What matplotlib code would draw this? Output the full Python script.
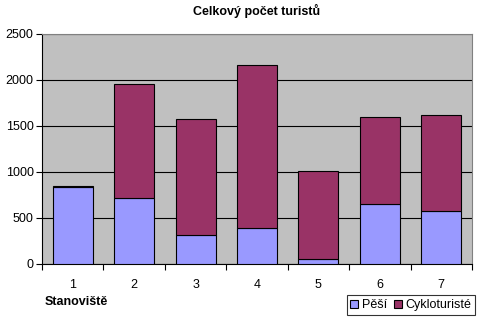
import numpy as np
import matplotlib.pyplot as plt

plt.rcParams['font.family'] = ['Liberation Sans', 'DejaVu Sans']

stanoviste = ['1', '2', '3', '4', '5', '6', '7']
pesi = [840, 720, 310, 395, 50, 650, 580]
cykloturiste = [12, 1240, 1265, 1765, 965, 950, 1040]

fig = plt.figure(figsize=(4.82, 3.22), dpi=100)
ax = fig.add_axes([42 / 482, 58 / 322, 430 / 482, 230 / 322])
ax.set_facecolor('#C0C0C0')

x = np.arange(len(stanoviste))
w = 0.65
ax.bar(x, pesi, w, color='#9999FF', edgecolor='black', linewidth=0.8,
       label='Pěší', zorder=3)
ax.bar(x, cykloturiste, w, bottom=pesi, color='#993366', edgecolor='black',
       linewidth=0.8, label='Cykloturisté', zorder=3)

ax.set_ylim(0, 2500)
ax.set_xlim(-0.5, len(stanoviste) - 0.5)
ax.set_yticks(range(0, 2501, 500))
ax.yaxis.grid(True, color='black', linewidth=0.8, zorder=0)
ax.set_axisbelow(True)

ax.set_xticks(x)
ax.set_xticklabels(stanoviste)
ax.set_xticks(np.arange(-0.5, len(stanoviste)), minor=True)
ax.tick_params(axis='x', which='major', length=0, pad=11)
ax.tick_params(axis='x', which='minor', length=4, width=0.8)
ax.tick_params(axis='y', length=4, width=0.8, pad=2)
ax.tick_params(labelsize=9)

for s in ['left', 'bottom']:
    ax.spines[s].set_color('black')
    ax.spines[s].set_linewidth(0.8)
for s in ['top', 'right']:
    ax.spines[s].set_color('#808080')
    ax.spines[s].set_linewidth(0.8)

ax.set_title('Celkový počet turistů', fontsize=9, fontweight='bold', pad=14)
fig.text(45 / 482, 1 - 302 / 322, 'Stanoviště', fontsize=9, fontweight='bold',
         va='center', ha='left')

leg = fig.legend(loc='center', bbox_to_anchor=(411 / 482, 1 - 305 / 322),
                 ncol=2, fontsize=9, frameon=True, fancybox=False,
                 edgecolor='black', handlelength=0.6, handleheight=0.6,
                 handletextpad=0.3, columnspacing=0.6, borderpad=0.3,
                 borderaxespad=0)
leg.get_frame().set_linewidth(0.8)

fig.savefig('out.png', dpi=100)
